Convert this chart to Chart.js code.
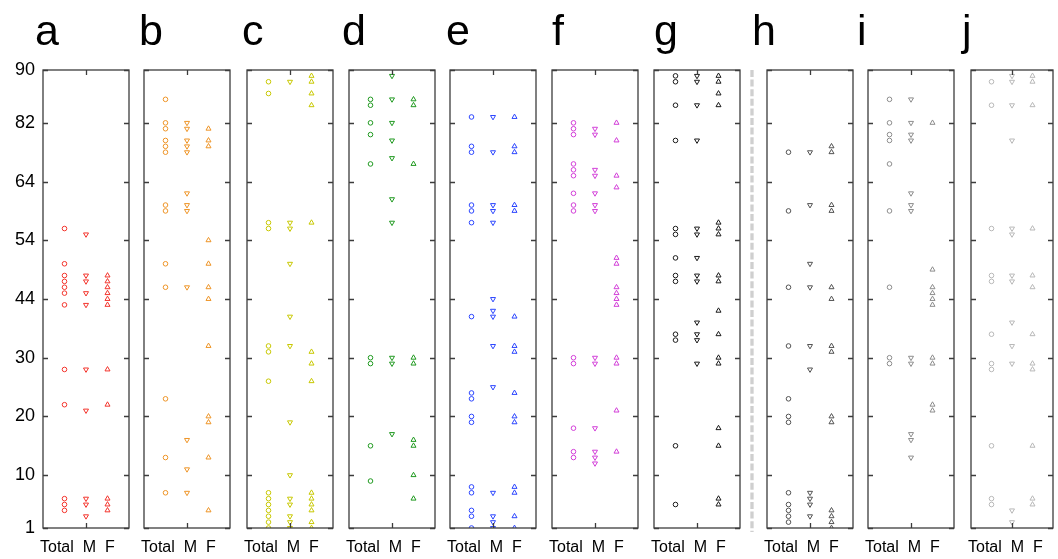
<!DOCTYPE html>
<html>
<head>
<meta charset="utf-8">
<script src="https://cdn.jsdelivr.net/npm/chart.js@4.4.1/dist/chart.umd.min.js"></script>
<style>
  html, body { margin: 0; padding: 0; background: #ffffff; }
  #wrap { position: relative; width: 1058px; height: 559px; overflow: hidden; }
  #wrap canvas { position: absolute; left: 0; top: 0; }
</style>
</head>
<body>
<div id="wrap"></div>
<script>
// Column groups shown under every panel
const groups = ['Total', 'M', 'F'];

// Rank positions on the vertical axis and the labels printed at them
const rankTicks  = [1, 10, 20, 30, 40, 50, 60, 70, 79];
const rankLabels = ['1', '10', '20', '30', '44', '54', '64', '82', '90'];

// Rank positions per panel: Total / M / F
const aTotal  = [52, 46, 44, 43, 42, 41, 39, 28, 22, 6, 5, 4];
const aMale   = [51, 44, 43, 41, 39, 28, 21, 6, 5, 3];
const aFemale = [44, 43, 42, 41, 40, 39, 28, 22, 6, 5, 4];

const bTotal  = [74, 70, 69, 67, 66, 65, 56, 55, 46, 42, 23, 13, 7];
const bMale   = [70, 69, 67, 66, 65, 58, 56, 55, 42, 16, 11, 7];
const bFemale = [69, 67, 66, 50, 46, 42, 40, 32, 20, 19, 13, 4];

const cTotal  = [77, 75, 53, 52, 32, 31, 26, 7, 6, 5, 4, 3, 2, 1];
const cMale   = [77, 53, 52, 46, 37, 32, 19, 10, 6, 5, 3, 2, 1];
const cFemale = [78, 77, 75, 73, 53, 31, 29, 26, 7, 6, 5, 4, 2, 1];

const dTotal  = [74, 73, 70, 68, 63, 30, 29, 15, 9];
const dMale   = [78, 74, 70, 67, 64, 57, 53, 30, 29, 17];
const dFemale = [74, 73, 63, 30, 29, 16, 15, 10, 6];

const eTotal  = [71, 66, 65, 56, 55, 53, 37, 24, 23, 20, 19, 8, 7, 4, 3, 1];
const eMale   = [71, 65, 56, 55, 53, 40, 38, 37, 32, 25, 7, 3, 2, 1];
const eFemale = [71, 66, 65, 56, 55, 37, 32, 31, 24, 20, 19, 8, 7, 3, 1];

const fTotal  = [70, 69, 68, 63, 62, 61, 58, 56, 55, 30, 29, 18, 14, 13];
const fMale   = [69, 68, 62, 61, 58, 56, 55, 30, 29, 18, 14, 13, 12];
const fFemale = [70, 67, 61, 59, 47, 46, 42, 41, 40, 39, 30, 29, 21, 14];

const gTotal  = [78, 77, 73, 67, 52, 51, 47, 44, 43, 34, 33, 15, 5];
const gMale   = [78, 77, 73, 67, 52, 51, 47, 44, 43, 36, 34, 33, 29];
const gFemale = [78, 77, 75, 73, 53, 52, 51, 44, 43, 38, 34, 30, 29, 18, 15, 6, 5];

const hTotal  = [65, 55, 42, 32, 23, 20, 19, 7, 5, 4, 3, 2];
const hMale   = [65, 56, 46, 42, 32, 28, 7, 6, 5, 3];
const hFemale = [66, 65, 56, 55, 42, 40, 32, 31, 20, 19, 4, 3, 2, 1];

const iTotal  = [74, 70, 68, 67, 63, 55, 42, 30, 29];
const iMale   = [74, 70, 68, 67, 58, 56, 55, 30, 29, 17, 16, 13];
const iFemale = [70, 45, 42, 41, 40, 39, 30, 29, 22, 21];

const jTotal  = [77, 73, 52, 44, 43, 34, 29, 28, 15, 6, 5];
const jMale   = [78, 77, 73, 67, 52, 51, 44, 43, 36, 32, 29, 4, 2];
const jFemale = [78, 77, 73, 52, 44, 42, 34, 29, 28, 15, 6, 5];

const panels = [
  { letter: 'a', color: '#f3342c', series: [aTotal, aMale, aFemale] },
  { letter: 'b', color: '#ee9426', series: [bTotal, bMale, bFemale] },
  { letter: 'c', color: '#c8c800', series: [cTotal, cMale, cFemale] },
  { letter: 'd', color: '#1f991f', series: [dTotal, dMale, dFemale] },
  { letter: 'e', color: '#2b45ff', series: [eTotal, eMale, eFemale] },
  { letter: 'f', color: '#d23fd8', series: [fTotal, fMale, fFemale] },
  { letter: 'g', color: '#1a1a1a', series: [gTotal, gMale, gFemale] },
  { letter: 'h', color: '#525252', series: [hTotal, hMale, hFemale], divider: true },
  { letter: 'i', color: '#8c8c8c', series: [iTotal, iMale, iFemale] },
  { letter: 'j', color: '#b8b8b8', series: [jTotal, jMale, jFemale] }
];

// Page geometry
const W = 1058, H = 559;
const boxTop = 70, boxBottom = 528, boxWidth = 86;
const boxLeft = [43, 144, 247, 349, 450, 552, 654, 767, 868, 971];
const letterX = [35, 139, 242, 342, 446, 552, 654, 752, 857, 962];
const FONT = '"Liberation Sans", Arial, Helvetica, sans-serif';

const markerStyles = [
  { pointStyle: 'circle',   pointRadius: 2.3, rotation: 0 },
  { pointStyle: 'triangle', pointRadius: 2.9, rotation: 180 },
  { pointStyle: 'triangle', pointRadius: 2.9, rotation: 0 }
];

// Frame, inward tick marks, group captions and panel letter
const framePlugin = {
  id: 'panelFrame',
  afterDatasetsDraw(chart, args, opts) {
    const { ctx, chartArea: a, scales } = chart;
    const ys = scales.y, xs = scales.x;
    ctx.save();
    ctx.strokeStyle = '#3c3c3c';
    ctx.lineWidth = 1.3;
    ctx.strokeRect(a.left, a.top, a.right - a.left, a.bottom - a.top);
    ctx.beginPath();
    rankTicks.forEach(v => {
      const py = Math.round(ys.getPixelForValue(v)) + 0.5;
      ctx.moveTo(a.left, py);  ctx.lineTo(a.left + 5, py);
      ctx.moveTo(a.right - 5, py); ctx.lineTo(a.right, py);
    });
    const mx = Math.round(xs.getPixelForValue(2)) + 0.5;
    ctx.moveTo(mx, a.top); ctx.lineTo(mx, a.top + 5);
    ctx.moveTo(mx, a.bottom - 5); ctx.lineTo(mx, a.bottom);
    ctx.stroke();

    ctx.fillStyle = '#000';
    ctx.textBaseline = 'alphabetic';
    ctx.textAlign = 'left';
    ctx.font = '16px ' + FONT;
    ctx.fillText(groups.join('  '), a.left - 3, 552);

    ctx.font = '43px ' + FONT;
    ctx.fillText(opts.letter, opts.letterX, 45);

    if (opts.divider) {
      ctx.strokeStyle = '#cfcfcf';
      ctx.lineWidth = 3.3;
      ctx.setLineDash([7, 2.6]);
      ctx.beginPath();
      const dx = a.left - 15;
      ctx.moveTo(dx, a.top);
      ctx.lineTo(dx, a.bottom + 4);
      ctx.stroke();
    }
    ctx.restore();
  }
};

const wrap = document.getElementById('wrap');

panels.forEach((p, idx) => {
  const canvas = document.createElement('canvas');
  canvas.width = W; canvas.height = H;
  canvas.style.width = W + 'px'; canvas.style.height = H + 'px';
  wrap.appendChild(canvas);

  const withAxis = idx === 0;
  const left = boxLeft[idx];

  const datasets = p.series.map((vals, k) => ({
    label: groups[k],
    data: vals.map(v => ({ x: k + 1, y: v })),
    pointStyle: markerStyles[k].pointStyle,
    pointRadius: markerStyles[k].pointRadius,
    pointRotation: markerStyles[k].rotation,
    pointBorderWidth: 1,
    pointBorderColor: p.color,
    pointBackgroundColor: 'rgba(0,0,0,0)',
    showLine: false
  }));

  new Chart(canvas, {
    type: 'scatter',
    data: { datasets },
    plugins: [framePlugin],
    options: {
      responsive: false,
      animation: false,
      devicePixelRatio: 1,
      events: [],
      layout: {
        padding: {
          left: withAxis ? 0 : left,
          right: W - left - boxWidth,
          top: boxTop,
          bottom: H - boxBottom
        }
      },
      plugins: {
        legend: { display: false },
        tooltip: { enabled: false },
        panelFrame: { letter: p.letter, letterX: letterX[idx], divider: !!p.divider }
      },
      scales: {
        x: { type: 'linear', min: 0, max: 4, display: false },
        y: {
          type: 'linear', min: 1, max: 79,
          display: withAxis,
          afterBuildTicks: s => { s.ticks = rankTicks.map(v => ({ value: v })); },
          afterFit: s => { if (withAxis) s.width = left; },
          grid: { display: false, drawTicks: false },
          border: { display: false },
          ticks: {
            autoSkip: false,
            color: '#000',
            padding: 8,
            labelOffset: 0,
            font: { size: 18, family: FONT },
            callback: (v, i) => rankLabels[i]
          }
        }
      }
    }
  });
});
</script>
</body>
</html>
